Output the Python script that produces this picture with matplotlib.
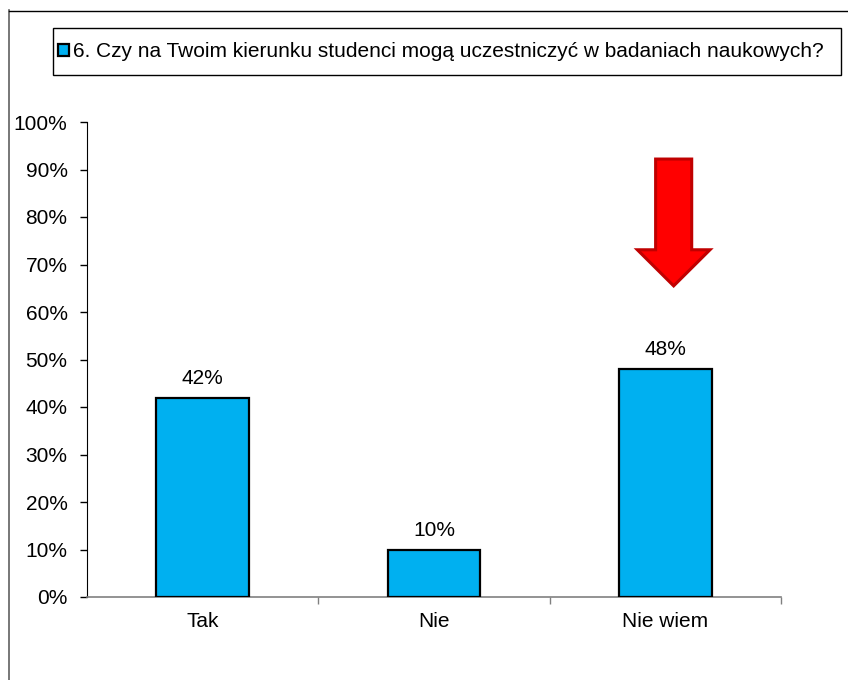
import numpy as np
import matplotlib.pyplot as plt
from matplotlib.patches import Rectangle, Polygon
from matplotlib.lines import Line2D
from matplotlib.ticker import PercentFormatter

categories = ['Tak', 'Nie', 'Nie wiem']
values = [42, 10, 48]
series_name = '6. Czy na Twoim kierunku studenci mogą uczestniczyć w badaniach naukowych?'

plt.rcParams['font.family'] = ['Liberation Sans', 'DejaVu Sans']
FS = 15

W, H = 848, 680
fig = plt.figure(figsize=(W / 100, H / 100), dpi=100)
ax = fig.add_axes([87 / W, 1 - 597 / H, (781 - 87) / W, (597 - 122) / H])

x = np.arange(len(categories))
bars = ax.bar(x, values, width=0.4, color='#00B0F0', edgecolor='black',
              linewidth=1.6, label=series_name, zorder=3)
ax.bar_label(bars, labels=[f'{v}%' for v in values], padding=7, fontsize=FS)

ax.set_xlim(-0.5, len(categories) - 0.5)
ax.set_ylim(0, 100)
ax.set_yticks(np.arange(0, 101, 10))
ax.yaxis.set_major_formatter(PercentFormatter(decimals=0))
ax.set_xticks(x)
ax.set_xticklabels(categories)
ax.set_xticks(np.arange(0.5, len(categories), 1), minor=True)

ax.tick_params(axis='y', direction='out', length=5, width=1, pad=9, labelsize=FS)
ax.tick_params(axis='x', which='major', length=0, pad=11, labelsize=FS)
ax.tick_params(axis='x', which='minor', direction='out', length=5, width=1,
               color='#808080')

for s in ['top', 'right']:
    ax.spines[s].set_visible(False)
ax.spines['left'].set_color('black')
ax.spines['bottom'].set_color('#808080')
ax.spines['bottom'].set_linewidth(1.2)

# red arrow pointing at "Nie wiem"
cx, sw, hw = 2.036, 0.078, 0.157
top, base, tip = 92.2, 73.1, 65.5
arrow = Polygon([(cx - sw, top), (cx + sw, top), (cx + sw, base), (cx + hw, base),
                 (cx, tip), (cx - hw, base), (cx - sw, base)],
                closed=True, facecolor='#ff0000', edgecolor='#c00000',
                linewidth=2.2, joinstyle='miter', zorder=4, clip_on=False)
ax.add_patch(arrow)

# outer chart frame
fig.add_artist(Line2D([8.5 / W, 8.5 / W], [0, 1 - 10 / H], color='#606060', lw=1.2))
fig.add_artist(Line2D([8.5 / W, 1], [1 - 10.5 / H, 1 - 10.5 / H], color='black', lw=1))

# legend box
fig.add_artist(Rectangle((53 / W, 1 - 75 / H), (841 - 53) / W, 47 / H,
                         transform=fig.transFigure, facecolor='white',
                         edgecolor='black', linewidth=1))
fig.legend(handles=[bars], labels=[series_name], loc='center',
           bbox_to_anchor=(441 / W, 1 - 51.5 / H), frameon=False,
           fontsize=FS, handlelength=0.5, handleheight=0.5, handletextpad=0.2)

fig.savefig('out.png', dpi=100)
